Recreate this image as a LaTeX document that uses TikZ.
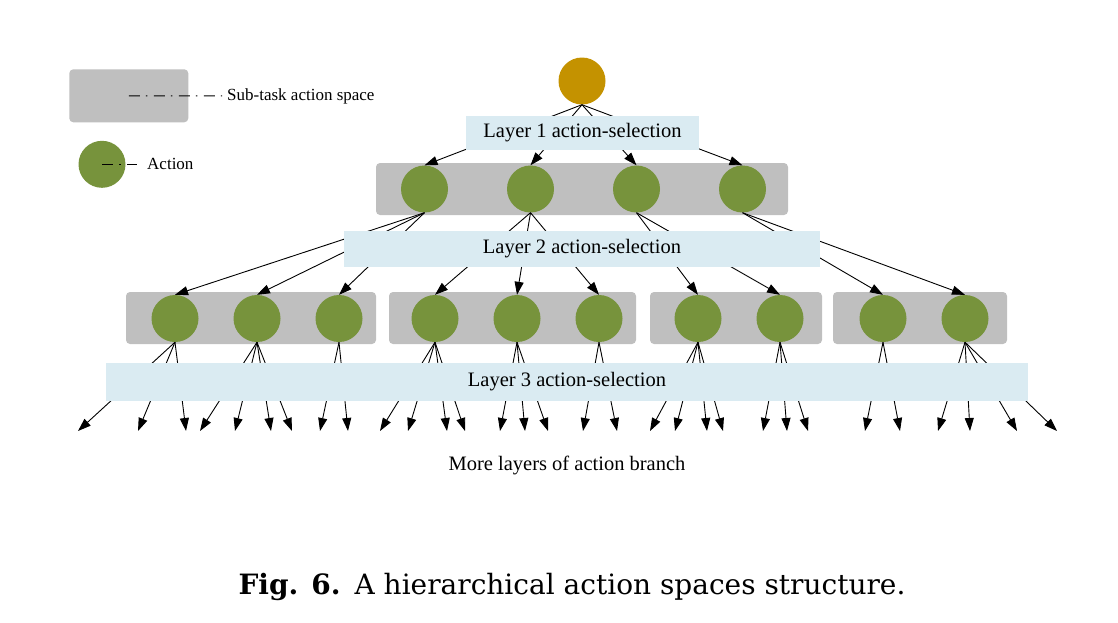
\documentclass[tikz,border=0pt]{standalone}
\usepackage{fontspec}
\setmainfont{Liberation Serif}
\newfontfamily\captionfont{DejaVu Serif}
\usetikzlibrary{arrows.meta}
\definecolor{actgreen}{RGB}{119,147,60}
\definecolor{rootgold}{RGB}{196,146,0}
\definecolor{spacegray}{RGB}{191,191,191}
\definecolor{selblue}{RGB}{218,235,242}

\begin{document}
\begin{tikzpicture}
[x=1pt,y=-1pt,
  actionNode/.style={shape=circle,fill=actgreen,minimum size=47pt,inner sep=0pt},%
  rootNode/.style={shape=circle,fill=rootgold,minimum size=47pt,inner sep=0pt},%
  spaceBox/.style={shape=rectangle,rounded corners=4pt,fill=spacegray,inner sep=0pt},%
  selectBox/.style={shape=rectangle,fill=selblue,inner sep=0pt,font=\fontsize{20.5}{24}\selectfont},%
  arrowDecorate/.style={-{Triangle[length=13pt,width=9pt]},line width=0.9pt},%
  legendLine/.style={line width=1pt,dash pattern=on 11pt off 6pt on 1.5pt off 6.5pt},%
  legendText/.style={anchor=west,inner sep=0pt,font=\fontsize{17}{20}\selectfont}]
\useasboundingbox (0,0) rectangle (1118,622);
%% sub-task action spaces
\foreach \spname/\xa/\xb/\y in {sp1/376/788/189, spA/126/376/318, spB/389/636/318,
    spC/650/822/318, spD/833/1007/318} {
  \node (\spname) at ({(\xa+\xb)/2},\y) [spaceBox,minimum width={(\xb-\xa)*1pt},minimum height=52pt] {};
}
%% legend
\node (lgSpace) at (128.8,95.8) [spaceBox,minimum width=119pt,minimum height=53pt] {};
\node (lgAction) at (102,164.3) [actionNode] {};
\node (lgSpaceText) at (227,96) [legendText] {Sub-task action space};
\node (lgActionText) at (147,164.3) [legendText] {Action};
\draw[legendLine,shorten >=5pt] (lgSpace.center) -- (lgSpaceText.west);
\draw[legendLine,shorten >=10.5pt] (lgAction.center) -- (lgActionText.west);
%% nodes or actions
\node (root) at (582,81) [rootNode] {};
\foreach \nodename/\x/\y in {a1/424.5/189, a2/530.5/189, a3/636.5/189, a4/742.5/189,
    b1/175/318.5, b2/257/318.5, b3/339/318.5, b4/435/318.5, b5/517/318.5,
    b6/599/318.5, b7/698/318.5, b8/780/318.5, b9/883/318.5, b10/965/318.5} {
  \node (\nodename) at (\x,\y) [actionNode] {};
}
%% ends of the open branches
\foreach \i/\x in {1/78, 2/138, 3/186, 4/200, 5/235, 6/271, 7/292, 8/320, 9/348,
    10/380, 11/408, 12/447, 13/465, 14/500, 15/525, 16/548, 17/583, 18/617,
    19/650, 20/675, 21/707, 22/723, 23/763, 24/787, 25/808, 26/865, 27/900,
    28/938, 29/970, 30/1017, 31/1057} {
  \coordinate (e\i) at (\x,431);
}
%% edges or branches
\path
\foreach \startnode/\endnode in {root/a1, root/a2, root/a3, root/a4,
    a1/b1, a1/b2, a1/b3, a2/b4, a2/b5, a2/b6, a3/b7, a3/b8, a4/b9, a4/b10} {
  (\startnode.south) edge[arrowDecorate] (\endnode.north)
};
\path
\foreach \startnode/\endnode in {b1/e1, b1/e2, b1/e3, b2/e4, b2/e5, b2/e6, b2/e7,
    b3/e8, b3/e9, b4/e10, b4/e11, b4/e12, b4/e13, b5/e14, b5/e15, b5/e16,
    b6/e17, b6/e18, b7/e19, b7/e20, b7/e21, b7/e22, b8/e23, b8/e24, b8/e25,
    b9/e26, b9/e27, b10/e28, b10/e29, b10/e30, b10/e31} {
  (\startnode.south) edge[arrowDecorate] (\endnode)
};
%% action-selection layers
\node (sel1) at (582.5,133) [selectBox,minimum width=233pt,minimum height=33.5pt] {Layer 1 action-selection};
\node (sel2) at (582,249) [selectBox,minimum width=476pt,minimum height=36.5pt] {Layer 2 action-selection};
\node (sel3) at (567,382) [selectBox,minimum width=922pt,minimum height=38pt] {Layer 3 action-selection};
%% texts
\node (more) at (567,465) [font=\fontsize{20.5}{24}\selectfont] {More layers of action branch};
\node (caption) at (572,587) [font=\captionfont\fontsize{28}{32}\selectfont] {{\bfseries Fig. 6.}\enspace A hierarchical action spaces structure.};
\end{tikzpicture}
\end{document}
